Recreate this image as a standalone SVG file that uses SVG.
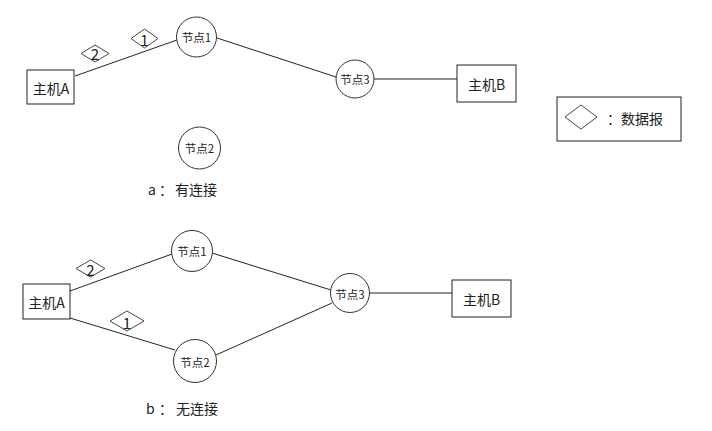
<svg xmlns="http://www.w3.org/2000/svg" width="712" height="431" viewBox="0 0 712 431">
<style>
.bx{fill:#fff;stroke:#222;stroke-width:1}
.nd{fill:#fff;stroke:#333;stroke-width:1}
.dm{fill:#fff;stroke:#444;stroke-width:1}
.ln{fill:none;stroke:#222;stroke-width:1}
text{font-family:"Noto Sans CJK SC","Microsoft YaHei",sans-serif;fill:#222;dominant-baseline:central}
.t14{font-size:14px}
.t11{font-size:11.5px;text-anchor:middle}
.c14{font-size:14px;text-anchor:middle}
.num{font-size:15px;text-anchor:middle}
</style>
<rect width="712" height="431" fill="#fff"/>
<g id="connectors">
<line class="ln" x1="75" y1="76" x2="177" y2="40"/>
<line class="ln" x1="217" y1="38" x2="336" y2="77"/>
<line class="ln" x1="374" y1="79" x2="457" y2="79"/>
<line class="ln" x1="70" y1="291" x2="172" y2="254"/>
<line class="ln" x1="70" y1="318" x2="175" y2="350"/>
<line class="ln" x1="212" y1="253" x2="331" y2="290"/>
<line class="ln" x1="216" y1="355" x2="332" y2="303"/>
<line class="ln" x1="370" y1="293" x2="452" y2="293"/>
</g>
<g id="a-hostA"><rect class="bx" x="27" y="70" width="47" height="34"/><text class="c14" x="51" y="88">主机A</text></g>
<g id="a-node1"><circle class="nd" cx="196.5" cy="37" r="20"/><text class="t11" x="196.5" y="37">节点1</text></g>
<g id="a-node2"><circle class="nd" cx="199.5" cy="148" r="21"/><text class="t11" x="199.5" y="148">节点2</text></g>
<g id="a-node3"><circle class="nd" cx="355" cy="79" r="19"/><text class="t11" x="355" y="79">节点3</text></g>
<g id="a-hostB"><rect class="bx" x="457" y="65" width="59" height="37"/><text class="c14" x="486.5" y="83.5">主机B</text></g>
<g id="a-packet2"><polygon class="dm" points="81,53.5 95,45 109,53.5 95,62"/><text class="num" x="95" y="53.5">2</text></g>
<g id="a-packet1"><polygon class="dm" points="131,38.5 144.5,29 158,38.5 144.5,48"/><text class="num" x="144.5" y="39">1</text></g>
<g id="a-caption"><text class="t14" x="148" y="189">a<tspan x="159">：</tspan><tspan x="175">有连接</tspan></text></g>
<g id="legend"><rect class="bx" x="557" y="97" width="124" height="44"/><polygon class="dm" points="565,117 581,105 597,117 581,129"/><text class="t14" x="607" y="118">：数据报</text></g>
<g id="b-hostA"><rect class="bx" x="23" y="284" width="47" height="35"/><text class="c14" x="46.5" y="302">主机A</text></g>
<g id="b-node1"><circle class="nd" cx="192" cy="251" r="20.5"/><text class="t11" x="192" y="251">节点1</text></g>
<g id="b-node2"><circle class="nd" cx="195" cy="361" r="21.5"/><text class="t11" x="195" y="362">节点2</text></g>
<g id="b-node3"><circle class="nd" cx="350" cy="293" r="19.5"/><text class="t11" x="350" y="294">节点3</text></g>
<g id="b-hostB"><rect class="bx" x="452" y="280" width="59" height="37"/><text class="c14" x="481.5" y="298.5">主机B</text></g>
<g id="b-packet2"><polygon class="dm" points="76,268.5 90.5,260 105,268.5 90.5,277"/><text class="num" x="90.5" y="269">2</text></g>
<g id="b-packet1"><polygon class="dm" points="110,321 127,311 144,321 127,331"/><text class="num" x="127" y="322">1</text></g>
<g id="b-caption"><text class="t14" x="146" y="408">b<tspan x="159">：</tspan><tspan x="176">无连接</tspan></text></g>
</svg>
